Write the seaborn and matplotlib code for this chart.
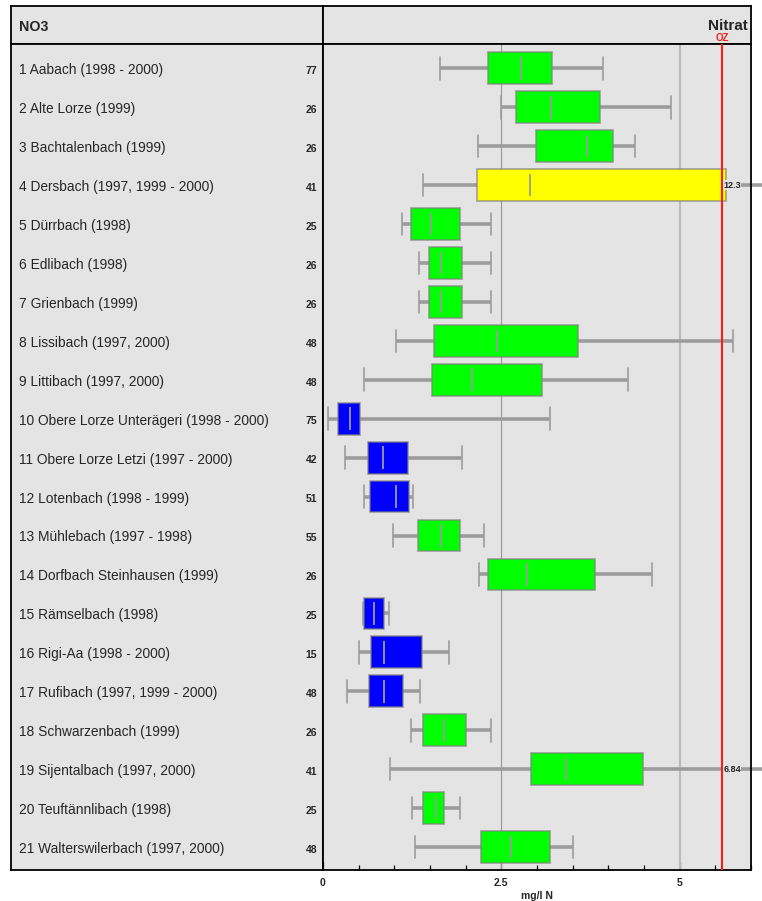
import numpy as np
import pandas as pd
import matplotlib
matplotlib.use("Agg")
import matplotlib.pyplot as plt
import matplotlib.transforms as mtransforms
import seaborn as sns

# Messstellen (Bezeichnung mit Messjahren), Anzahl Proben und Fünf-Punkte-Zusammenfassung in mg/l N
stations = [
    "1 Aabach (1998 - 2000)",
    "2 Alte Lorze (1999)",
    "3 Bachtalenbach (1999)",
    "4 Dersbach (1997, 1999 - 2000)",
    "5 Dürrbach (1998)",
    "6 Edlibach (1998)",
    "7 Grienbach (1999)",
    "8 Lissibach (1997, 2000)",
    "9 Littibach (1997, 2000)",
    "10 Obere Lorze Unterägeri (1998 - 2000)",
    "11 Obere Lorze Letzi (1997 - 2000)",
    "12 Lotenbach (1998 - 1999)",
    "13 Mühlebach (1997 - 1998)",
    "14 Dorfbach Steinhausen (1999)",
    "15 Rämselbach (1998)",
    "16 Rigi-Aa (1998 - 2000)",
    "17 Rufibach (1997, 1999 - 2000)",
    "18 Schwarzenbach (1999)",
    "19 Sijentalbach (1997, 2000)",
    "20 Teuftännlibach (1998)",
    "21 Walterswilerbach (1997, 2000)",
]
counts = [77, 26, 26, 41, 25, 26, 26, 48, 48, 75, 42, 51, 55, 26, 25, 15, 48, 26, 41, 25, 48]

lo = [1.64, 2.49, 2.17, 1.40, 1.11, 1.34, 1.34, 1.02, 0.58, 0.07, 0.31,
      0.57, 0.98, 2.19, 0.56, 0.50, 0.34, 1.23, 0.94, 1.25, 1.29]
q1 = [2.31, 2.71, 2.98, 2.16, 1.24, 1.49, 1.49, 1.55, 1.53, 0.21, 0.63,
      0.66, 1.33, 2.32, 0.58, 0.67, 0.64, 1.40, 2.92, 1.40, 2.22]
med = [2.78, 3.19, 3.70, 2.90, 1.52, 1.66, 1.66, 2.44, 2.09, 0.38, 0.84,
       1.03, 1.65, 2.86, 0.71, 0.86, 0.86, 1.70, 3.41, 1.58, 2.64]
q3 = [3.21, 3.89, 4.07, 5.65, 1.92, 1.95, 1.95, 3.57, 3.07, 0.52, 1.19,
      1.21, 1.92, 3.81, 0.85, 1.39, 1.12, 2.00, 4.48, 1.70, 3.18]
hi = [3.93, 4.88, 4.38, 12.3, 2.36, 2.35, 2.35, 5.75, 4.27, 3.18, 1.95,
      1.26, 2.26, 4.61, 0.92, 1.77, 1.36, 2.36, 6.84, 1.92, 3.50]

# Beurteilungsklasse je Messstelle
klasse = ["gruen", "gruen", "gruen", "gelb", "gruen", "gruen", "gruen", "gruen", "gruen",
          "blau", "blau", "blau", "gruen", "gruen", "blau", "blau", "blau",
          "gruen", "gruen", "gruen", "gruen"]

oz = 5.6            # Anforderung (OZ) in mg/l N
x_ticks = [0, 2.5, 5]
x_max = 6.0

class_colors = {"gruen": "#00ff00", "gelb": "#ffff00", "blau": "#0000ff"}
palette = {s: class_colors[k] for s, k in zip(stations, klasse)}

# long-form table: the five summary values per station
df = pd.DataFrame({
    "station": np.repeat(stations, 5),
    "wert": np.column_stack([lo, q1, med, q3, hi]).ravel(),
})

sns.set_style("white")
plt.rcParams["font.family"] = ["Liberation Sans", "DejaVu Sans"]

W, H = 762, 901
fig = plt.figure(figsize=(W / 100, H / 100), dpi=100, facecolor="white")

def box(l, t, r, b):
    return [l / W, 1 - b / H, (r - l) / W, (b - t) / H]

BG = "#e4e4e4"
L, SEP, R, TOP, HEAD, BOT = 11, 323, 751, 6, 44, 870

ax_hl = fig.add_axes(box(L, TOP, SEP, HEAD))
ax_hr = fig.add_axes(box(SEP, TOP, R, HEAD))
ax_lab = fig.add_axes(box(L, HEAD, SEP, BOT))
ax = fig.add_axes(box(SEP, HEAD, R, BOT))

for a in (ax_hl, ax_hr, ax_lab, ax):
    a.set_facecolor(BG)
    for sp in a.spines.values():
        sp.set_color("black")
        sp.set_linewidth(1.3)
        sp.set_visible(True)

box_w = 0.814
sns.boxplot(
    data=df, x="wert", y="station", hue="station", order=stations,
    hue_order=stations, palette=palette, legend=False, saturation=1,
    whis=(0, 100), width=box_w, fliersize=0, ax=ax,
    boxprops=dict(edgecolor=(0.5, 0.5, 0.5, 0.65), linewidth=1.3, zorder=3),
    whiskerprops=dict(color="#9c9c9c", linewidth=2.6, solid_capstyle="butt", zorder=2),
    capprops=dict(color="#9c9c9c", linewidth=1.2, zorder=2),
    medianprops=dict(color="#9c9c9c", linewidth=1.3, zorder=4),
)

ylim = (20.59, -0.624)
ax.set_ylim(*ylim)
ax.set_xlim(0, x_max)

# shorter caps and medians, whiskers beyond the frame run out to the edge
half = 0.29
for c in ax.containers:
    for ln in list(getattr(c, "medians", [])) + list(getattr(c, "caps", [])):
        yc = np.mean(ln.get_ydata())
        ln.set_ydata([yc - half, yc + half])
    for ln in getattr(c, "whiskers", []):
        if np.max(ln.get_xdata()) > x_max:
            ln.set_clip_on(False)

ax.axvline(2.5, color="#999999", lw=0.8, zorder=1)
ax.axvline(5, color="#bbbbbb", lw=1.5, zorder=1)
ax.axvline(oz, color="#ff1a1a", lw=1.5, zorder=6)

# value labels for whiskers outside the axis range
trans = mtransforms.blended_transform_factory(ax.transAxes, ax.transData)
for i, v in enumerate(hi):
    if v > x_max:
        ax.text(0.935, i, f"{v:g}", transform=trans, ha="left", va="center",
                fontsize=6.5, fontweight="bold", zorder=8,
                bbox=dict(facecolor=BG, edgecolor="none", pad=0.4))

ax.set_ylabel("")
ax.set_yticks([])
ax.set_xticks(x_ticks)
ax.set_xticklabels([f"{t:g}" for t in x_ticks], fontweight="bold", fontsize=7.5)
ax.set_xticks(np.arange(0, x_max + 0.01, 0.5), minor=True)
ax.tick_params(axis="x", which="major", direction="in", length=6, width=0.9,
               color="black", pad=6, bottom=True)
ax.tick_params(axis="x", which="minor", direction="in", length=3.5, width=0.9,
               color="black", bottom=True)
ax.set_xlabel("mg/l N", fontweight="bold", fontsize=7.5, labelpad=2)

# station names and sample counts
ax_lab.set_ylim(*ylim)
ax_lab.set_xlim(0, 1)
ax_lab.set_xticks([])
ax_lab.set_yticks([])
for i, (s, n) in enumerate(zip(stations, counts)):
    ax_lab.text(0.0256, i + 0.05, s, ha="left", va="center", fontsize=9.9)
    ax_lab.text(0.981, i + 0.07, str(n), ha="right", va="center", fontsize=7.5,
                fontweight="bold")

# header row
for a in (ax_hl, ax_hr):
    a.set_xticks([])
    a.set_yticks([])
ax_hl.set_xlim(0, 1)
ax_hl.set_ylim(0, 1)
ax_hl.text(0.0256, 0.46, "NO3", ha="left", va="center", fontsize=10.3,
           fontweight="bold")
ax_hr.set_xlim(0, x_max)
ax_hr.set_ylim(0, 1)
ax_hr.text(0.993, 0.48, "Nitrat", transform=ax_hr.transAxes, ha="right",
           va="center", fontsize=11, fontweight="bold")
ax_hr.text(oz, 0.16, "OZ", ha="center", va="center", fontsize=7,
           fontweight="bold", color="#ff1a1a")

fig.savefig("out.png", dpi=100, facecolor="white")
